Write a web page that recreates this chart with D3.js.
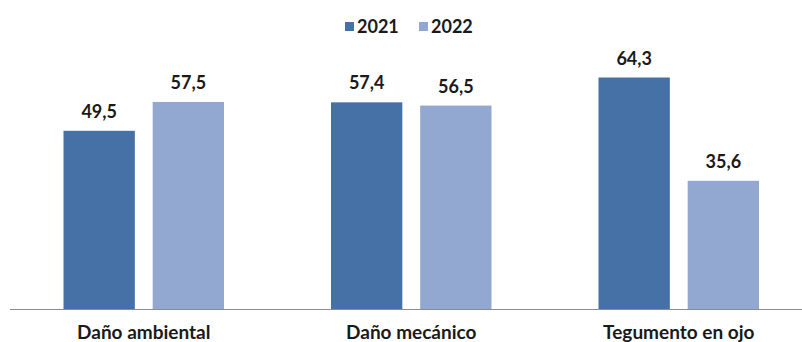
<!DOCTYPE html>
<html>
<head>
<meta charset="utf-8">
<script src="https://cdn.jsdelivr.net/npm/d3@7"></script>
<style>
  body { margin: 0; background: #fff; }
  text { font-family: Lato, "Open Sans", sans-serif; font-weight: bold; fill: #1a1a1a; }
</style>
</head>
<body>
<div id="visual"></div>
<script>
// data
const categories = ["Daño ambiental", "Daño mecánico", "Tegumento en ojo"];
const years = ["2021", "2022"];
const values2021 = [49.5, 57.4, 64.3];
const values2022 = [57.5, 56.5, 35.6];

const colors = {"2021": "#4571a7", "2022": "#93a8d1"};

const width = 802;
const height = 342;
const baseY = 309;

const svg = d3.select("#visual")
  .append("svg")
  .attr("width", width)
  .attr("height", height);

const rows = categories.map((c, i) => ({cat: c, vals: [
  {year: "2021", v: values2021[i]},
  {year: "2022", v: values2022[i]}
]}));

// scales
const x0 = d3.scaleBand()
  .domain(categories)
  .range([10, 812.5])
  .paddingInner(0.4)
  .paddingOuter(0.2);

const x1 = d3.scaleBand()
  .domain(years)
  .range([0, x0.bandwidth()])
  .paddingInner(0.2);

const y = d3.scaleLinear()
  .domain([0, 64.3])
  .range([baseY, 77.5]);

// bars
const groups = svg.selectAll(".grp")
  .data(rows)
  .enter()
  .append("g")
  .attr("class", "grp")
  .attr("transform", d => "translate(" + x0(d.cat) + ",0)");

groups.selectAll("rect")
  .data(d => d.vals)
  .enter()
  .append("rect")
  .attr("x", d => x1(d.year))
  .attr("y", d => y(d.v))
  .attr("width", x1.bandwidth())
  .attr("height", d => baseY - y(d.v))
  .attr("fill", d => colors[d.year]);

groups.selectAll(".val")
  .data(d => d.vals)
  .enter()
  .append("text")
  .attr("class", "val")
  .attr("x", d => x1(d.year) + x1.bandwidth() / 2)
  .attr("y", d => y(d.v) - 13)
  .attr("text-anchor", "middle")
  .style("font-size", "18px")
  .text(d => d3.format(".1f")(d.v).replace(".", ","));

// axis line
svg.append("line")
  .attr("x1", 10)
  .attr("x2", width)
  .attr("y1", baseY + 0.5)
  .attr("y2", baseY + 0.5)
  .attr("stroke", "#8c8c8c")
  .attr("stroke-width", 1);

// category labels
svg.selectAll(".cat")
  .data(categories)
  .enter()
  .append("text")
  .attr("class", "cat")
  .attr("x", d => x0(d) + x0.bandwidth() / 2)
  .attr("y", 339)
  .attr("text-anchor", "middle")
  .style("font-size", "19px")
  .text(d => d);

// legend
const legend = svg.append("g").attr("transform", "translate(345,0)");
const legItems = legend.selectAll("g")
  .data(years)
  .enter()
  .append("g")
  .attr("transform", (d, i) => "translate(" + (i * 74) + ",0)");
legItems.append("rect")
  .attr("x", 0)
  .attr("y", 22)
  .attr("width", 9)
  .attr("height", 9)
  .attr("fill", d => colors[d]);
legItems.append("text")
  .attr("x", 12)
  .attr("y", 33)
  .style("font-size", "18px")
  .text(d => d);
</script>
</body>
</html>
